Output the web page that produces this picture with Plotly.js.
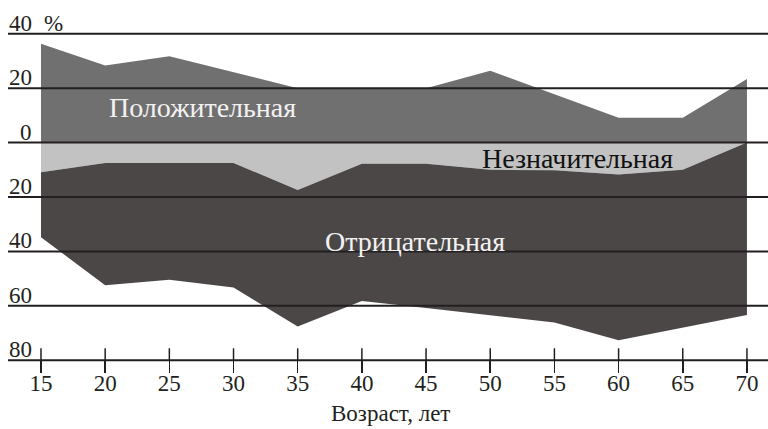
<!DOCTYPE html>
<html><head><meta charset="utf-8">
<script src="https://cdn.plot.ly/plotly-3.0.1.min.js"></script>
<style>html,body{margin:0;padding:0;background:#fff;}</style>
</head><body><div id="chart" style="width:768px;height:429px;"></div>
<script>
// ---- data ----
const ages = [15, 20, 25, 30, 35, 40, 45, 50, 55, 60, 65, 70];
const positive = [36.3, 28.3, 31.7, 25.9, 20, 20, 20, 26.4, 17.8, 9.1, 9.1, 23.4];
const insignificantLow = [-10.9, -7.5, -7.5, -7.5, -17.4, -7.8, -7.8, -10.0, -10.2, -11.7, -10.0, 0];
const negativeLow = [-34.8, -52.4, -50.4, -53.3, -67.6, -58.2, -60.8, -63.4, -66.1, -72.6, -68.0, -63.4];
const yTickVals = [-80, -60, -40, -20, 0, 20, 40];
const yTickText = ['80', '60', '40', '20', '0', '20', '40'];
const yUnit = '%';
const xTitle = 'Возраст, лет';
const areaLabels = ['Положительная', 'Незначительная', 'Отрицательная'];

const FONT = '"Liberation Serif", "Times New Roman", serif';
const INK = '#231f20';
const C_POS = '#717070', C_INS = '#c2c2c2', C_NEG = '#4b4747';

const yMin = -81, yMax = 41;
const axisPos = (-80 - yMin) / (yMax - yMin);

const traces = [
  {x: ages, y: positive, type: 'scatter', mode: 'lines', line: {width: 0, color: C_POS},
   fill: 'tozeroy', fillcolor: C_POS, hoverinfo: 'skip', showlegend: false},
  {x: ages, y: insignificantLow, type: 'scatter', mode: 'lines', line: {width: 0, color: C_INS},
   fill: 'tozeroy', fillcolor: C_INS, hoverinfo: 'skip', showlegend: false},
  {x: ages, y: negativeLow, type: 'scatter', mode: 'lines', line: {width: 0, color: C_NEG},
   fill: 'tonexty', fillcolor: C_NEG, hoverinfo: 'skip', showlegend: false}
];

const shapes = yTickVals.map(v => ({
  type: 'line', xref: 'paper', x0: 0, x1: 1, yref: 'y', y0: v, y1: v,
  line: {color: INK, width: 2}, layer: 'above'
}));
// upward half of the crossing tick marks on the age axis
ages.forEach(a => shapes.push({
  type: 'line', xref: 'x', x0: a, x1: a, yref: 'y', ysizemode: 'pixel', yanchor: yTickVals[0],
  y0: 0, y1: 12, line: {color: INK, width: 1.5}, layer: 'above'
}));

const annotations = yTickVals.map((v, i) => ({
  xref: 'paper', x: 26 / 760, xanchor: 'right', yref: 'y', y: v, yanchor: 'bottom', yshift: -4,
  text: yTickText[i], showarrow: false, font: {family: FONT, size: 23, color: INK}
}));
annotations.push({
  xref: 'paper', x: 34 / 760, xanchor: 'left', yref: 'y', y: yTickVals[yTickVals.length - 1],
  yanchor: 'bottom', yshift: -4, text: yUnit, showarrow: false,
  font: {family: FONT, size: 23, color: INK}
});
annotations.push(
  {x: 27.6, y: 13.0, xref: 'x', yref: 'y', text: areaLabels[0], showarrow: false,
   font: {family: FONT, size: 28, color: '#f2f2f2'}},
  {x: 56.8, y: -5.8, xref: 'x', yref: 'y', text: areaLabels[1], showarrow: false,
   font: {family: FONT, size: 28, color: '#111111'}},
  {x: 44.1, y: -36.3, xref: 'x', yref: 'y', text: areaLabels[2], showarrow: false,
   font: {family: FONT, size: 28, color: '#f2f2f2'}},
  // axis title
  {xref: 'paper', x: 382 / 760, xanchor: 'center', yref: 'paper', y: -0.151, yanchor: 'middle',
   text: xTitle, showarrow: false, font: {family: FONT, size: 23, color: INK}}
);

const xRange = [12.43, 71.64];
const layout = {
  width: 768, height: 429,
  margin: {l: 8, r: 0, t: 31, b: 66, pad: 0},
  paper_bgcolor: '#ffffff', plot_bgcolor: 'rgba(0,0,0,0)',
  showlegend: false,
  xaxis: {
    range: xRange, tickvals: ages, ticktext: ages.map(String),
    ticks: 'outside', ticklen: 12, tickwidth: 1.5, tickcolor: INK,
    ticklabelstandoff: -10,
    showgrid: false, zeroline: false, showline: false,
    anchor: 'free', position: axisPos,
    tickfont: {family: FONT, size: 23, color: INK}
  },
  yaxis: {
    range: [yMin, yMax], showgrid: false, zeroline: false, showline: false,
    showticklabels: false, ticks: ''
  },
  shapes: shapes,
  annotations: annotations
};

Plotly.newPlot('chart', traces, layout, {displayModeBar: false, staticPlot: true});
</script>
</body></html>
